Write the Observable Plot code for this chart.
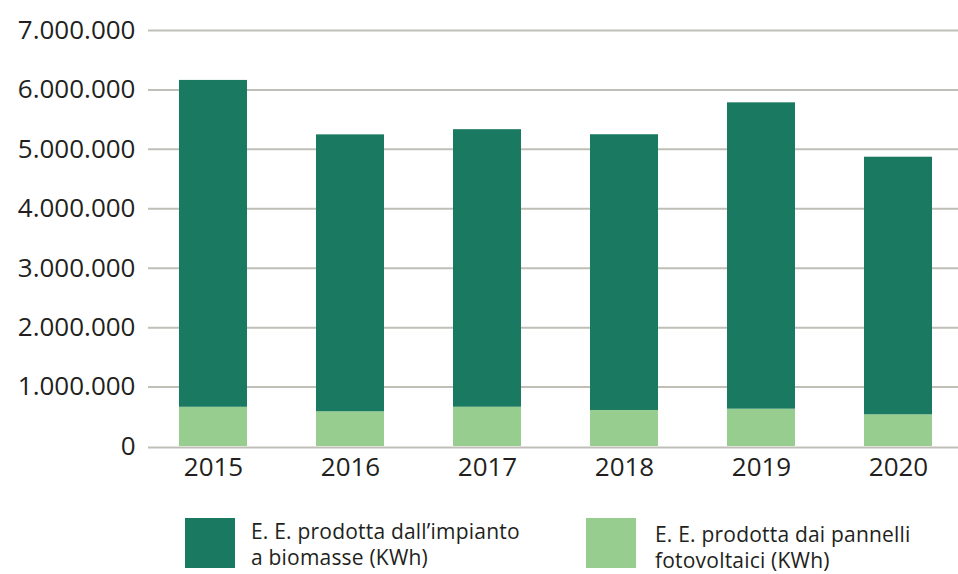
<!DOCTYPE html>
<html>
<head>
<meta charset="utf-8">
<script src="https://cdn.jsdelivr.net/npm/d3@7"></script>
<script src="https://cdn.jsdelivr.net/npm/@observablehq/plot@0.6"></script>
<style>
  html, body { margin: 0; padding: 0; background: #fff; }
  #wrap { position: relative; width: 958px; height: 574px; overflow: hidden; font-family: "Open Sans", sans-serif; color: #231f20; }
  .sw { width: 50px; height: 50px; flex: none; }
  .lt { position: absolute; font-size: 21px; line-height: 26px; letter-spacing: 0.2px; white-space: nowrap; }
</style>
</head>
<body>
<div id="wrap"></div>
<script>
const years = ["2015", "2016", "2017", "2018", "2019", "2020"];
const biomassa = [5500000, 4660000, 4670000, 4640000, 5155000, 4335000];
const fotovoltaico = [660000, 584000, 661000, 606000, 628000, 533000];
const yTicks = [0, 1000000, 2000000, 3000000, 4000000, 5000000, 6000000, 7000000];
const seriesNames = ["E. E. prodotta dai pannelli fotovoltaici (KWh)", "E. E. prodotta dall’impianto a biomasse (KWh)"];
const seriesColors = ["#97cd8e", "#1a7a61"];

const rows = [];
years.forEach((y, i) => rows.push({year: y, series: seriesNames[0], value: fotovoltaico[i]}));
years.forEach((y, i) => rows.push({year: y, series: seriesNames[1], value: biomassa[i]}));

const itFormat = d3.formatLocale({decimal: ",", thousands: ".", grouping: [3], currency: ["€", ""]}).format(",d");

const chart = Plot.plot({
  width: 958,
  height: 500,
  marginTop: 30,
  marginBottom: 54,
  marginLeft: 148,
  marginRight: 0,
  style: {fontFamily: "'Open Sans', sans-serif", color: "#231f20", background: "#fff"},
  x: {domain: years, paddingInner: 0.504, paddingOuter: 0.208, align: 0.55, label: null},
  y: {domain: [0, 7000000], label: null},
  color: {domain: seriesNames, range: seriesColors},
  marks: [
    Plot.ruleY(yTicks.filter(d => d > 0), {stroke: "#bfbfb8", strokeWidth: 2}),
    Plot.barY(rows, {x: "year", y: "value", fill: "series", z: "series", order: null}),
    Plot.ruleY([0], {stroke: "#bfbfb8", strokeWidth: 2, dy: 1}),
    Plot.axisY({ticks: yTicks, tickSize: 0, tickPadding: 13, fontSize: 26, tickFormat: itFormat, label: null}),
    Plot.axisX({tickSize: 0, tickPadding: 11, fontSize: 26, label: null})
  ]
});

const wrap = document.getElementById("wrap");
wrap.appendChild(chart);

function legendItem(color, lines, sx, sy, tx, ty) {
  const sw = document.createElement("div");
  sw.className = "sw";
  sw.style.position = "absolute";
  sw.style.left = sx + "px";
  sw.style.top = sy + "px";
  sw.style.background = color;
  wrap.appendChild(sw);
  const t = document.createElement("div");
  t.className = "lt";
  t.style.left = tx + "px";
  t.style.top = ty + "px";
  t.innerHTML = lines.join("<br>");
  wrap.appendChild(t);
}
legendItem(seriesColors[1], ["E. E. prodotta dall’impianto", "a biomasse (KWh)"], 185, 518, 251, 518);
legendItem(seriesColors[0], ["E. E. prodotta dai pannelli", "fotovoltaici (KWh)"], 586, 518, 655, 521);
</script>
</body>
</html>
